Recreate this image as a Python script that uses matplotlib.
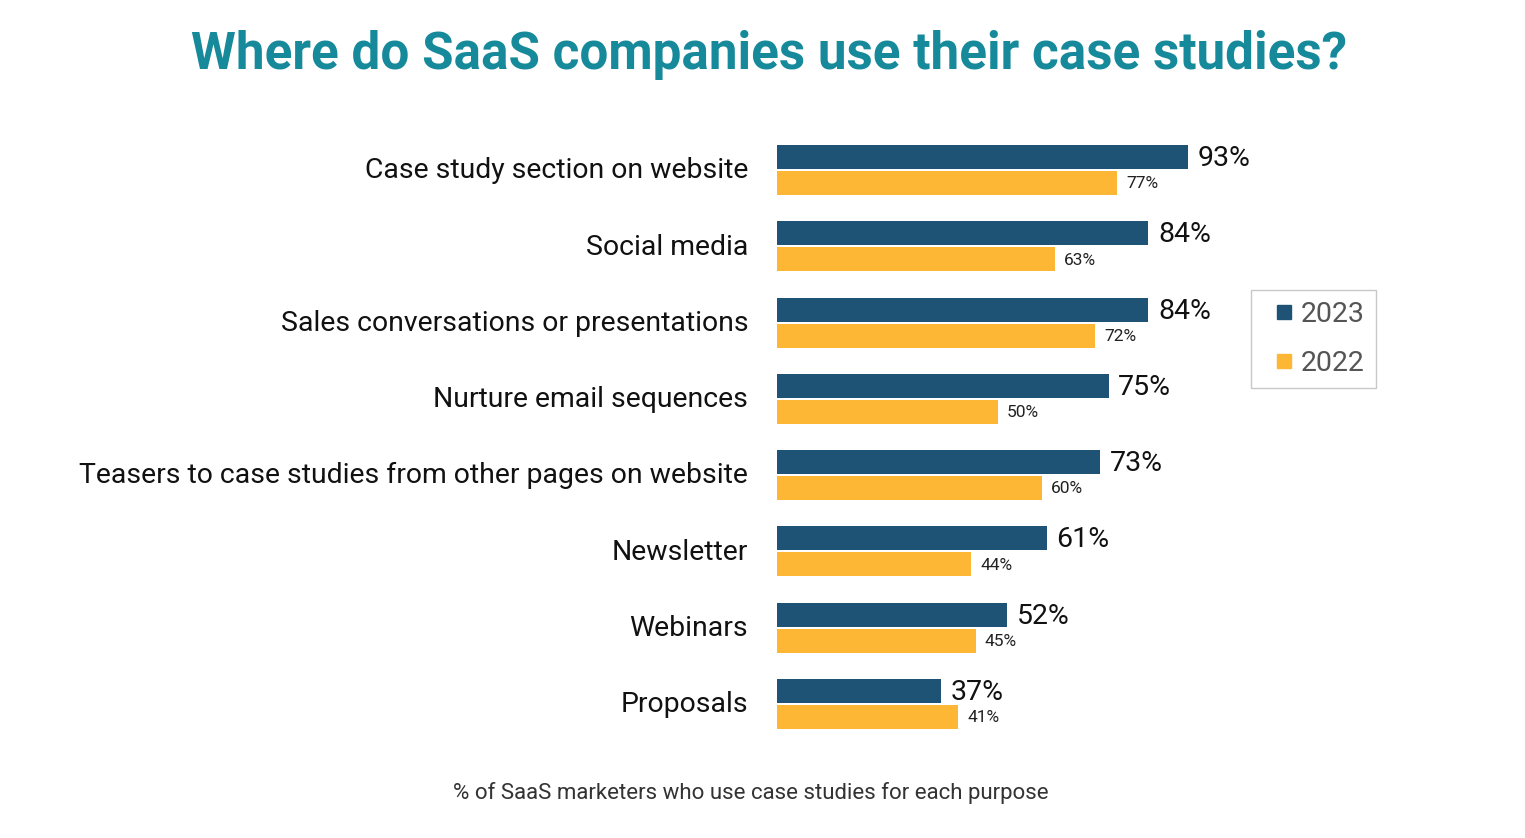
import matplotlib.pyplot as plt
from matplotlib.lines import Line2D
import numpy as np

# Data
categories = ['Case study section on website', 'Social media',
              'Sales conversations or presentations', 'Nurture email sequences',
              'Teasers to case studies from other pages on website', 'Newsletter',
              'Webinars', 'Proposals']
values_2023 = [93, 84, 84, 75, 73, 61, 52, 37]
values_2022 = [77, 63, 72, 50, 60, 44, 45, 41]
years = ['2023', '2022']

navy = '#1F5375'
gold = '#FDB734'
teal = '#168A9A'

plt.rcParams['font.family'] = ['Roboto', 'DejaVu Sans']

fig = plt.figure(figsize=(15.25, 8.38), dpi=100)
W, H = 1525, 838
ax = fig.add_axes([777 / W, (H - 742) / H, 442 / W, 610 / H])

y = np.arange(len(categories))
h = 0.315
ax.barh(y - 0.17, values_2023, height=h, color=navy)
ax.barh(y + 0.17, values_2022, height=h, color=gold)

for i in range(len(categories)):
    ax.text(values_2023[i] + 2.2, y[i] - 0.15, '%d%%' % values_2023[i],
            va='center', ha='left', fontsize=20.5, color='#111111')
    ax.text(values_2022[i] + 2.0, y[i] + 0.18, '%d%%' % values_2022[i],
            va='center', ha='left', fontsize=12.5, color='#222222')
    ax.text(-6.5, y[i] + 0.01, categories[i], va='center', ha='right',
            fontsize=20.4, color='#111111')

ax.set_xlim(0, 100)
ax.set_ylim(7.5, -0.5)
ax.axis('off')

handles = [Line2D([], [], linestyle='none', marker='s', markersize=9.5,
                  color=c) for c in (navy, gold)]
leg = fig.legend(handles, years, loc='upper left',
                 bbox_to_anchor=(1251 / W, 1 - 290 / H),
                 frameon=True, fancybox=False, fontsize=20.5, handlelength=1.55,
                 handletextpad=-0.2, labelspacing=0.75,
                 borderpad=0.4, borderaxespad=0)
leg.get_frame().set_edgecolor('#BBBBBB')
leg.get_frame().set_linewidth(1)
for t in leg.get_texts():
    t.set_color('#555555')

fig.text(769 / W, 1 - 55 / H, 'Where do SaaS companies use their case studies?',
         ha='center', va='center', fontsize=36.9, fontweight='bold', color=teal)
fig.text(751 / W, 1 - 793 / H, '% of SaaS marketers who use case studies for each purpose',
         ha='center', va='center', fontsize=16, color='#333333')

plt.savefig('out.png', dpi=100)
